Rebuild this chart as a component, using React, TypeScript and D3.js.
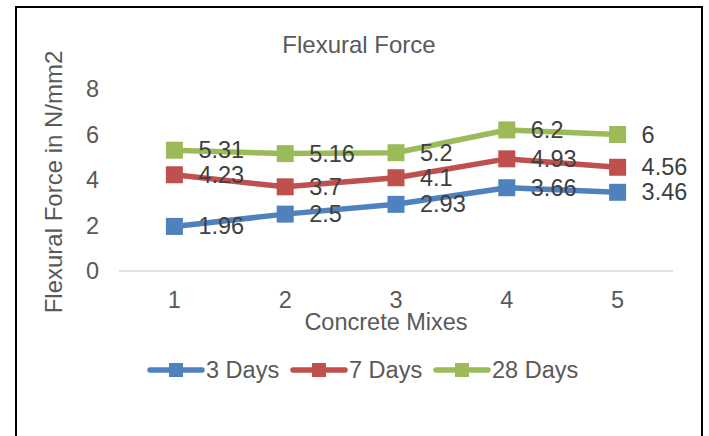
import React from "react";
import * as d3 from "d3";

const categories = ["1", "2", "3", "4", "5"];
const days3 = [1.96, 2.5, 2.93, 3.66, 3.46];
const days7 = [4.23, 3.7, 4.1, 4.93, 4.56];
const days28 = [5.31, 5.16, 5.2, 6.2, 6];
const yTicks = [0, 2, 4, 6, 8];
const seriesNames = ["3 Days", "7 Days", "28 Days"];
const seriesColors = ["#4f81bd", "#c0504d", "#9bbb59"];

const W = 709;
const H = 436;
const FONT = "'Liberation Sans', Arial, sans-serif";

export default function App() {
  const series = [days3, days7, days28];
  const x = d3.scaleBand<string>().domain(categories).range([119, 673]);
  const y = d3.scaleLinear().domain([0, 8]).range([271, 89]);
  const line = d3
    .line<number>()
    .x((_, i) => (x(categories[i]) as number) + x.bandwidth() / 2)
    .y((d) => y(d));
  const ms = 17;
  const legendX = [150, 293, 436];
  const legendY = 370;

  return (
    <svg
      width={W}
      height={H}
      style={{ position: "absolute", left: 0, top: 0, background: "#fff" }}
      fontFamily={FONT}
    >
      <rect x={0} y={0} width={W} height={H} fill="#fff" />
      <rect x={16} y={7} width={686} height={460} fill="none" stroke="#000" strokeWidth={2} />
      <text x={359} y={44} textAnchor="middle" dominantBaseline="central" fontSize={24} fill="#595959">
        Flexural Force
      </text>
      {yTicks.map((t) => (
        <text key={t} x={99} y={y(t)} textAnchor="end" dominantBaseline="central" fontSize={23.5} fill="#595959">
          {t}
        </text>
      ))}
      <line x1={119} x2={673} y1={y(0)} y2={y(0)} stroke="#d9d9d9" strokeWidth={1.5} />
      {categories.map((c) => (
        <text
          key={c}
          x={(x(c) as number) + x.bandwidth() / 2}
          y={300}
          textAnchor="middle"
          dominantBaseline="central"
          fontSize={23.5}
          fill="#595959"
        >
          {c}
        </text>
      ))}
      <text x={386} y={322} textAnchor="middle" dominantBaseline="central" fontSize={23.5} fill="#595959">
        Concrete Mixes
      </text>
      <text
        transform={`translate(53,182) rotate(-90)`}
        textAnchor="middle"
        dominantBaseline="central"
        fontSize={24}
        fill="#595959"
      >
        Flexural Force in N/mm2
      </text>
      {series.map((s, si) => (
        <g key={si}>
          <path d={line(s) || ""} fill="none" stroke={seriesColors[si]} strokeWidth={5.5} strokeLinejoin="round" strokeLinecap="round" />
          {s.map((v, i) => {
            const cx = (x(categories[i]) as number) + x.bandwidth() / 2;
            return (
              <rect key={i} x={cx - ms / 2} y={y(v) - ms / 2} width={ms} height={ms} fill={seriesColors[si]} />
            );
          })}
        </g>
      ))}
      {series.map((s, si) => (
        <g key={"l" + si}>
          {s.map((v, i) => {
            const cx = (x(categories[i]) as number) + x.bandwidth() / 2;
            return (
              <text key={i} x={cx + 24} y={y(v)} dominantBaseline="central" fontSize={23.5} fill="#404040">
                {v}
              </text>
            );
          })}
        </g>
      ))}
      {seriesNames.map((n, si) => (
        <g key={n}>
          <line
            x1={legendX[si]}
            x2={legendX[si] + 52}
            y1={legendY}
            y2={legendY}
            stroke={seriesColors[si]}
            strokeWidth={5.5}
            strokeLinecap="round"
          />
          <rect x={legendX[si] + 26 - 7} y={legendY - 7} width={14} height={14} fill={seriesColors[si]} />
          <text x={legendX[si] + 56} y={legendY} dominantBaseline="central" fontSize={23.5} fill="#595959">
            {n}
          </text>
        </g>
      ))}
    </svg>
  );
}
